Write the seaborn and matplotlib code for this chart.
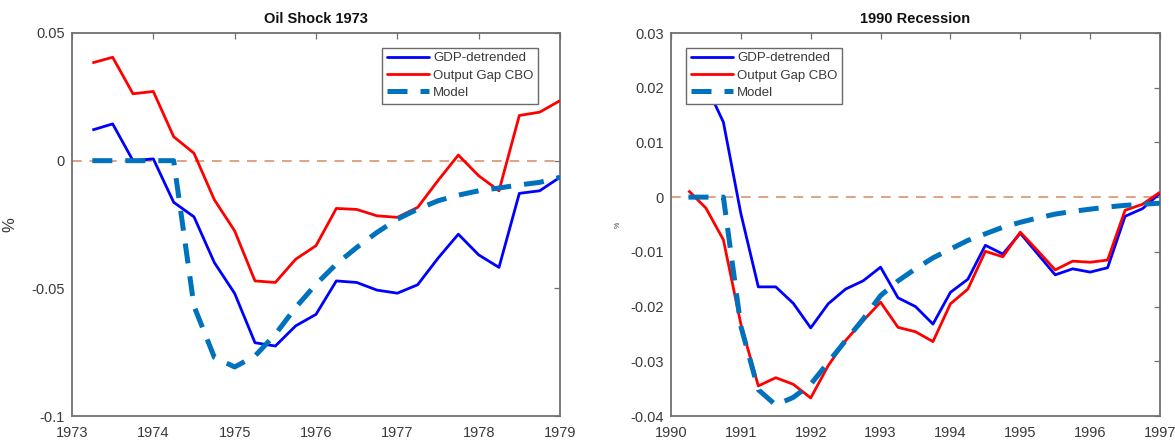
import matplotlib
matplotlib.use("Agg")
import matplotlib.pyplot as plt
import pandas as pd
import seaborn as sns

# ---- 1973 oil shock (quarterly) ----
oil_dates = [1973.25, 1973.5, 1973.75, 1974.0, 1974.25, 1974.5, 1974.75, 1975.0,
             1975.25, 1975.5, 1975.75, 1976.0, 1976.25, 1976.5, 1976.75, 1977.0,
             1977.25, 1977.5, 1977.75, 1978.0, 1978.25, 1978.5, 1978.75, 1979.0]
oil_gdp = [0.0120, 0.0144, 0.0000, 0.0007, -0.0163, -0.0220, -0.0399, -0.0520,
           -0.0713, -0.0726, -0.0647, -0.0602, -0.0471, -0.0477, -0.0507, -0.0519,
           -0.0486, -0.0382, -0.0288, -0.0369, -0.0418, -0.0128, -0.0118, -0.0065]
oil_cbo = [0.0383, 0.0405, 0.0262, 0.0271, 0.0094, 0.0029, -0.0153, -0.0275,
           -0.0471, -0.0477, -0.0386, -0.0333, -0.0187, -0.0191, -0.0216, -0.0222,
           -0.0183, -0.0078, 0.0022, -0.0059, -0.0118, 0.0177, 0.0190, 0.0235]
oil_model = [0.0, 0.0, 0.0, 0.0, 0.0, -0.0570, -0.0770, -0.0808,
             -0.0765, -0.0680, -0.0575, -0.0484, -0.0405, -0.0340, -0.0281, -0.0229,
             -0.0190, -0.0157, -0.0135, -0.0118, -0.0107, -0.0095, -0.0085, -0.0065]

# ---- 1990 recession (quarterly) ----
rec_dates = [1990.25, 1990.5, 1990.75, 1991.0, 1991.25, 1991.5, 1991.75, 1992.0,
             1992.25, 1992.5, 1992.75, 1993.0, 1993.25, 1993.5, 1993.75, 1994.0,
             1994.25, 1994.5, 1994.75, 1995.0, 1995.25, 1995.5, 1995.75, 1996.0,
             1996.25, 1996.5, 1996.75, 1997.0]
rec_gdp = [0.0240, 0.0205, 0.0137, -0.0030, -0.0164, -0.0164, -0.0194, -0.0239,
           -0.0195, -0.0168, -0.0153, -0.0128, -0.0184, -0.0200, -0.0232, -0.0174,
           -0.0150, -0.0088, -0.0104, -0.0066, -0.0104, -0.0142, -0.0131, -0.0137,
           -0.0129, -0.0035, -0.0021, 0.0007]
rec_cbo = [0.0012, -0.0020, -0.0078, -0.0232, -0.0345, -0.0330, -0.0342, -0.0367,
           -0.0308, -0.0262, -0.0226, -0.0192, -0.0238, -0.0246, -0.0264, -0.0195,
           -0.0168, -0.0099, -0.0109, -0.0064, -0.0098, -0.0133, -0.0117, -0.0119,
           -0.0115, -0.0024, -0.0013, 0.0009]
rec_model = [0.0, 0.0, 0.0, -0.0236, -0.0352, -0.0380, -0.0366, -0.0342,
             -0.0302, -0.0262, -0.0223, -0.0180, -0.0153, -0.0131, -0.0111, -0.0095,
             -0.0079, -0.0067, -0.0055, -0.0046, -0.0038, -0.0031, -0.0026, -0.0022,
             -0.0018, -0.0015, -0.0013, -0.0011]

series_names = ["GDP-detrended", "Output Gap CBO", "Model"]

panels = [
    dict(title="Oil Shock 1973", dates=oil_dates, values=[oil_gdp, oil_cbo, oil_model],
         xlim=(1973, 1979), ylim=(-0.1, 0.05),
         yticks=[-0.1, -0.05, 0, 0.05], yticklabels=["-0.1", "-0.05", "0", "0.05"],
         xticks=[1973, 1974, 1975, 1976, 1977, 1978, 1979],
         legend_loc="upper right", legend_anchor=(0.955, 0.962),
         ylabel_size=12, ylabel_pad=10,
         rect=[72 / 1175, 1 - 416 / 441, 488 / 1175, 383 / 441]),
    dict(title="1990 Recession", dates=rec_dates, values=[rec_gdp, rec_cbo, rec_model],
         xlim=(1990, 1997), ylim=(-0.04, 0.03),
         yticks=[-0.04, -0.03, -0.02, -0.01, 0, 0.01, 0.02, 0.03],
         yticklabels=["-0.04", "-0.03", "-0.02", "-0.01", "0", "0.01", "0.02", "0.03"],
         xticks=[1990, 1991, 1992, 1993, 1994, 1995, 1996, 1997],
         legend_loc="upper left", legend_anchor=(0.031, 0.962),
         ylabel_size=5, ylabel_pad=6,
         rect=[671 / 1175, 1 - 416 / 441, 489 / 1175, 383 / 441]),
]

sns.set_style("white")
plt.rcParams["font.family"] = ["Liberation Sans", "DejaVu Sans"]

line_colors = {"GDP-detrended": "#0000FF", "Output Gap CBO": "#FF0000", "Model": "#0072BD"}
line_widths = {"GDP-detrended": 2.0, "Output Gap CBO": 2.0, "Model": 3.6}
model_dash = (4.0, 2.6)
axis_grey = "#707070"
text_grey = "#3A3A3A"

fig = plt.figure(figsize=(11.75, 4.41), dpi=100)

for p in panels:
    ax = fig.add_axes(p["rect"])
    frame = pd.DataFrame({
        "date": p["dates"] * 3,
        "value": p["values"][0] + p["values"][1] + p["values"][2],
        "series": [n for n in series_names for _ in p["dates"]],
    })
    # zero reference line
    ax.axhline(0, color="#E0A283", lw=1.4, ls=(0, (5, 4)), zorder=1)
    sns.lineplot(data=frame, x="date", y="value", hue="series", style="series",
                 hue_order=series_names, style_order=series_names,
                 palette=line_colors,
                 dashes={"GDP-detrended": "", "Output Gap CBO": "", "Model": model_dash},
                 sort=False, ax=ax, legend=False, zorder=3)
    for ln, name in zip(ax.get_lines()[1:], series_names):
        ln.set_linewidth(line_widths[name])
        ln.set_solid_capstyle("butt")
        ln.set_dash_capstyle("butt")

    ax.set_xlim(*p["xlim"])
    ax.set_ylim(*p["ylim"])
    ax.set_xticks(p["xticks"])
    ax.set_xticklabels([str(t) for t in p["xticks"]])
    ax.set_yticks(p["yticks"])
    ax.set_yticklabels(p["yticklabels"])
    ax.set_xlabel("")
    ax.set_ylabel("%", fontsize=p["ylabel_size"], color=text_grey, labelpad=p["ylabel_pad"])
    ax.set_title(p["title"], fontsize=10.5, fontweight="bold", color="#111111", pad=7)

    ax.tick_params(direction="in", length=4, width=0.9, colors=axis_grey,
                   labelcolor=text_grey, labelsize=10.5, top=True, right=True)
    ax.tick_params(axis="x", pad=7)
    ax.tick_params(axis="y", pad=5)
    for s in ax.spines.values():
        s.set_visible(True)
        s.set_color(axis_grey)
        s.set_linewidth(1.3)

    handles = [plt.Line2D([], [], color=line_colors[n], lw=line_widths[n],
                          ls="-" if n != "Model" else (0, model_dash)) for n in series_names]
    leg = ax.legend(handles, series_names, loc=p["legend_loc"],
                    bbox_to_anchor=p["legend_anchor"], borderaxespad=0, fontsize=9.5,
                    frameon=True, fancybox=False, framealpha=1, edgecolor="#6A6A6A",
                    handlelength=3.2, handletextpad=0.3, borderpad=0.35,
                    labelspacing=0.38)
    leg.get_frame().set_linewidth(1.0)
    for t in leg.get_texts():
        t.set_color(text_grey)

fig.savefig("out.png", dpi=100)
